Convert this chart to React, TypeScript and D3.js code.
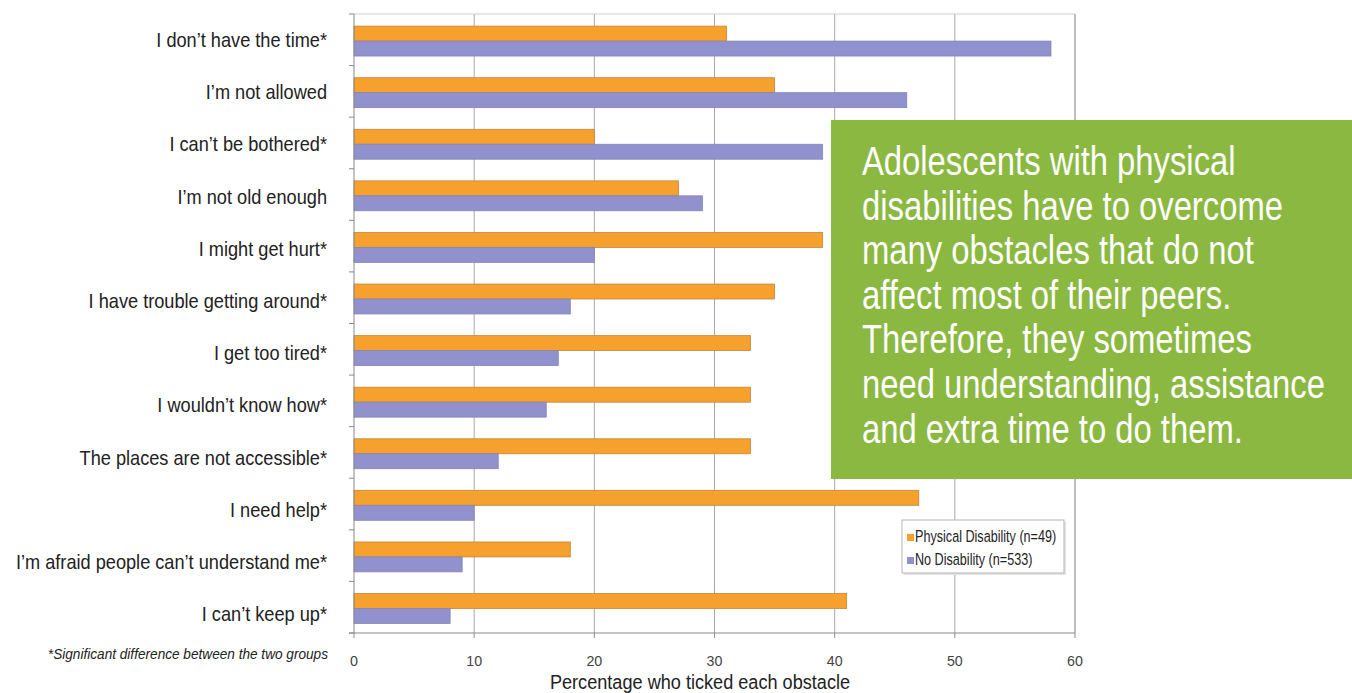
import React from "react";
import * as d3 from "d3";

const categories = [
  "I don\u2019t have the time*",
  "I\u2019m not allowed",
  "I can\u2019t be bothered*",
  "I\u2019m not old enough",
  "I might get hurt*",
  "I have trouble getting around*",
  "I get too tired*",
  "I wouldn\u2019t know how*",
  "The places are not accessible*",
  "I need help*",
  "I\u2019m afraid people can\u2019t understand me*",
  "I can\u2019t keep up*",
];
const physicalDisability = [31, 35, 20, 27, 39, 35, 33, 33, 33, 47, 18, 41];
const noDisability = [58, 46, 39, 29, 20, 18, 17, 16, 12, 10, 9, 8];
const seriesNames = ["Physical Disability (n=49)", "No Disability (n=533)"];
const xTicks = [0, 10, 20, 30, 40, 50, 60];
const xTitle = "Percentage who ticked each obstacle";
const footnote = "*Significant difference between the two groups";
const calloutLines = [
  "Adolescents with physical",
  "disabilities have to overcome",
  "many obstacles that do not",
  "affect most of their peers.",
  "Therefore, they sometimes",
  "need understanding, assistance",
  "and extra time to do them.",
];

const W = 1352;
const H = 693;
const ORANGE = "#F6A02D";
const PURPLE = "#9091CD";
const GREEN = "#8AB841";
const SANS = "'Liberation Sans', Arial, sans-serif";

type NProps = {
  x: number;
  y: number;
  sx: number;
  size: number;
  anchor?: "start" | "middle" | "end";
  fill?: string;
  italic?: boolean;
  children: React.ReactNode;
};

function NText({ x, y, sx, size, anchor = "start", fill = "#222", italic, children }: NProps) {
  return (
    <text
      transform={`translate(${x},${y}) scale(${sx},1)`}
      textAnchor={anchor}
      fontFamily={SANS}
      fontSize={size}
      fontStyle={italic ? "italic" : "normal"}
      fill={fill}
    >
      {children}
    </text>
  );
}

export default function App() {
  const plot = { left: 354, right: 1075, top: 14, bottom: 633 };
  const x = d3.scaleLinear().domain([0, 60]).range([plot.left, plot.right]);
  const y = d3.scaleBand<string>().domain(categories).range([plot.top, plot.bottom]).padding(0);
  const bw = y.bandwidth();
  const inner = d3
    .scaleBand<string>()
    .domain(seriesNames)
    .range([bw * 0.235, bw * 0.815])
    .padding(0);
  const labelY = d3
    .scaleLinear()
    .domain([0, categories.length - 1])
    .range([47, 47 + 52.2 * (categories.length - 1)]);
  const series = [
    { name: seriesNames[0], values: physicalDisability, color: ORANGE, stroke: "#C7853A" },
    { name: seriesNames[1], values: noDisability, color: PURPLE, stroke: "#8384BE" },
  ];
  const boundaries = d3.range(categories.length + 1).map((i) => plot.top + i * bw);

  return (
    <svg
      width={W}
      height={H}
      viewBox={`0 0 ${W} ${H}`}
      style={{ position: "absolute", left: 0, top: 0, background: "#fff" }}
    >
      <rect x={plot.left} y={plot.top} width={plot.right - plot.left} height={plot.bottom - plot.top} fill="#fff" />
      {xTicks.slice(1).map((t) => (
        <line key={"g" + t} x1={x(t)} x2={x(t)} y1={plot.top} y2={plot.bottom} stroke="#a8a8a8" strokeWidth={1} />
      ))}
      <line x1={plot.left} x2={plot.right} y1={plot.top} y2={plot.top} stroke="#cfcfcf" />
      <line x1={plot.right} x2={plot.right} y1={plot.top} y2={plot.bottom} stroke="#a8a8a8" />

      {categories.map((c, i) =>
        series.map((s) => (
          <rect
            key={c + s.name}
            x={x(0)}
            y={(y(c) as number) + (inner(s.name) as number)}
            width={x(s.values[i]) - x(0)}
            height={inner.bandwidth()}
            fill={s.color}
            stroke={s.stroke}
            strokeWidth={0.8}
          />
        ))
      )}

      <line x1={plot.left} x2={plot.left} y1={plot.top} y2={plot.bottom} stroke="#8a8a8a" />
      {boundaries.map((b, i) => (
        <line key={"yt" + i} x1={plot.left - 5} x2={plot.left} y1={b} y2={b} stroke="#8a8a8a" />
      ))}
      <line x1={plot.left - 5} x2={plot.right} y1={plot.bottom} y2={plot.bottom} stroke="#8a8a8a" />
      {xTicks.map((t) => (
        <g key={"xt" + t}>
          <line x1={x(t)} x2={x(t)} y1={plot.bottom} y2={plot.bottom + 5} stroke="#8a8a8a" />
          <NText x={x(t)} y={666} sx={0.95} size={15} anchor="middle" fill="#444">
            {t}
          </NText>
        </g>
      ))}

      {categories.map((c, i) => (
        <NText key={"l" + c} x={327} y={labelY(i)} sx={0.866} size={21} anchor="end">
          {c}
        </NText>
      ))}

      <NText x={328} y={659} sx={0.88} size={15.5} anchor="end" italic>
        {footnote}
      </NText>
      <NText x={700} y={689} sx={0.863} size={21} anchor="middle">
        {xTitle}
      </NText>

      <rect x={904} y={522} width={162} height={53} fill="#e4e4e4" />
      <rect x={902} y={520} width={162} height={53} fill="#fff" stroke="#b5b5b5" strokeWidth={1} />
      {series.map((s, i) => (
        <g key={"lg" + s.name}>
          <rect x={907} y={534 + i * 23} width={7} height={7} fill={s.color} />
          <NText x={915} y={542 + i * 23} sx={0.765} size={16.5}>
            {s.name}
          </NText>
        </g>
      ))}

      <rect x={831} y={120} width={W - 831} height={359} fill={GREEN} />
      {calloutLines.map((line, i) => (
        <NText key={"c" + i} x={862} y={175 + i * 44.6} sx={0.8} size={41} fill="#fff">
          {line}
        </NText>
      ))}
    </svg>
  );
}
